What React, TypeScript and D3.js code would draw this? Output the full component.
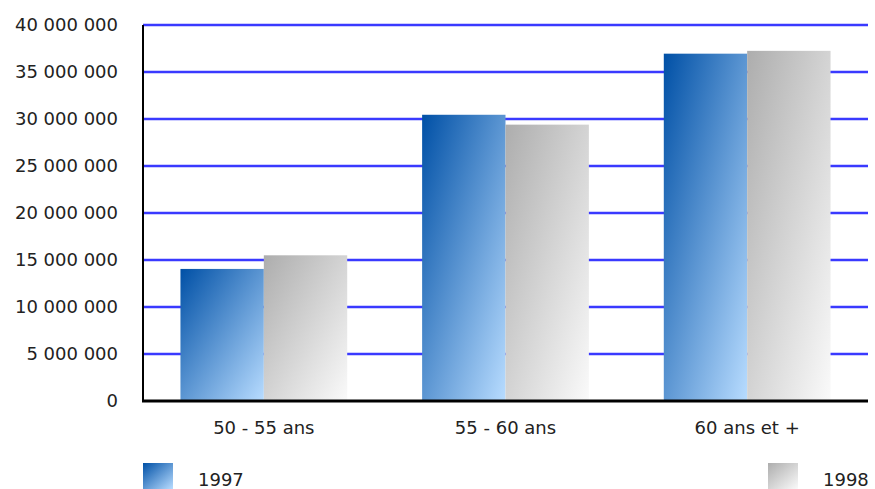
import * as d3 from "d3";

const categories = ["50 - 55 ans", "55 - 60 ans", "60 ans et +"];
const series = ["1997", "1998"];
const values1997 = [14050000, 30450000, 36950000];
const values1998 = [15500000, 29400000, 37250000];
const yTicks = [0, 5000000, 10000000, 15000000, 20000000, 25000000, 30000000, 35000000, 40000000];

export default function App() {
  const width = 875;
  const height = 489;
  const marginLeft = 143;
  const marginRight = 7;
  const marginTop = 25;
  const marginBottom = 88;

  const x = d3.scaleBand<string>()
    .domain(categories)
    .range([marginLeft, width - marginRight])
    .paddingInner(0.31)
    .paddingOuter(0.155);

  const xs = d3.scaleBand<string>()
    .domain(series)
    .range([0, x.bandwidth()]);

  const y = d3.scaleLinear()
    .domain([0, 40000000])
    .range([height - marginBottom, marginTop]);

  const fmt = (v: number) => d3.format(",")(v).replace(/,/g, " ");

  const data = categories.map((c, i) => ({ c, vals: [values1997[i], values1998[i]] }));
  const fills = ["url(#gBlue)", "url(#gGray)"];
  const font = "'DejaVu Sans', Verdana, sans-serif";

  return (
    <div style={{ position: "absolute", left: 0, top: 0 }}>
      <svg width={width} height={height} style={{ display: "block" }}>
        <defs>
          <linearGradient id="gBlue" x1="0" y1="0" x2="1" y2="1">
            <stop offset="0%" stopColor="#0050a6" />
            <stop offset="100%" stopColor="#b8dcff" />
          </linearGradient>
          <linearGradient id="gGray" x1="0" y1="0" x2="1" y2="1">
            <stop offset="0%" stopColor="#adadad" />
            <stop offset="100%" stopColor="#fafafa" />
          </linearGradient>
        </defs>

        {yTicks.filter(t => t > 0).map(t => (
          <line key={t} x1={marginLeft} x2={width - marginRight} y1={y(t)} y2={y(t)}
            stroke="#3a3aff" strokeWidth={2.5} />
        ))}

        {data.map(d => (
          <g key={d.c} transform={`translate(${x(d.c)},0)`}>
            {series.map((s, j) => (
              <rect key={s} x={xs(s)} y={y(d.vals[j])} width={xs.bandwidth()}
                height={y(0) - y(d.vals[j])} fill={fills[j]} />
            ))}
          </g>
        ))}

        <line x1={marginLeft} x2={marginLeft} y1={marginTop} y2={y(0)} stroke="#000" strokeWidth={2} />
        <line x1={marginLeft - 1} x2={width - marginRight} y1={y(0)} y2={y(0)} stroke="#000" strokeWidth={3} />

        {yTicks.map(t => (
          <text key={t} x={118} y={y(t)} dy="0.36em" textAnchor="end"
            fontFamily={font} fontSize={18} fill="#222">{fmt(t)}</text>
        ))}

        {categories.map(c => (
          <text key={c} x={(x(c) ?? 0) + x.bandwidth() / 2} y={434} textAnchor="middle"
            fontFamily={font} fontSize={18} fill="#222">{c}</text>
        ))}

        {series.map((s, j) => {
          const lx = j === 0 ? 143 : 768;
          return (
            <g key={s}>
              <rect x={lx} y={463} width={30} height={26} fill={fills[j]} />
              <text x={lx + 55} y={486} fontFamily={font} fontSize={18} fill="#222">{s}</text>
            </g>
          );
        })}
      </svg>
    </div>
  );
}
